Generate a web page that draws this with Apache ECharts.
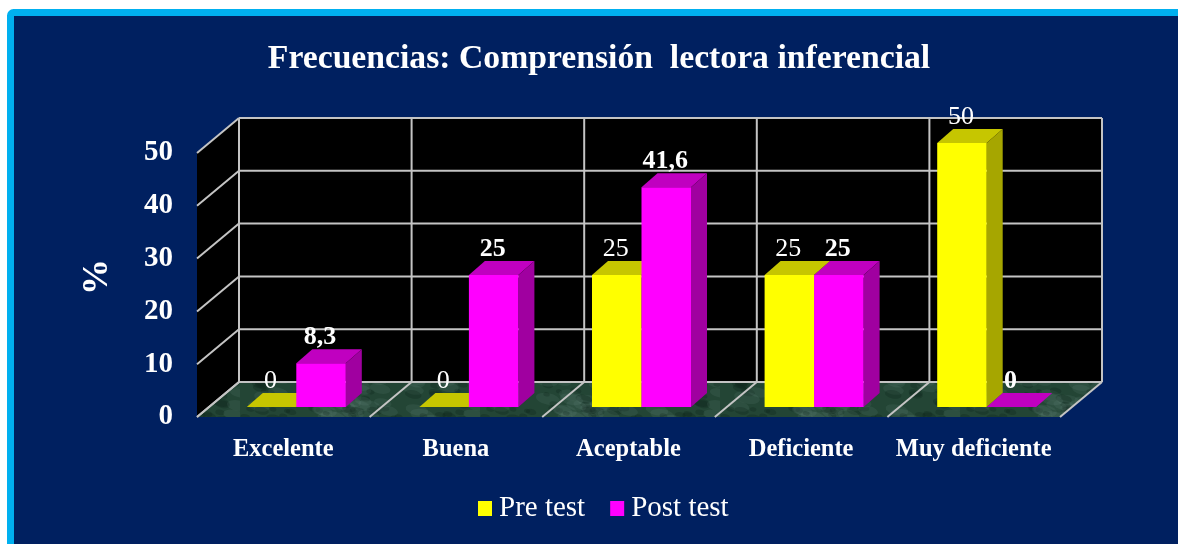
<!DOCTYPE html>
<html>
<head>
<meta charset="utf-8">
<style>html,body{margin:0;padding:0;background:#fff}#c{width:1178px;height:544px}</style>
<script src="https://cdn.jsdelivr.net/npm/echarts@6/dist/echarts.min.js"></script>
</head>
<body>
<div id="c"></div>
<script>
var categories = ['Excelente', 'Buena', 'Aceptable', 'Deficiente', 'Muy deficiente'];
var preTest = [0, 0, 25, 25, 50];
var postTest = [8.3, 25, 41.6, 25, 0];
var valueTicks = [0, 10, 20, 30, 40, 50];

var WALL = {dx: 42, dy: -35};       // depth of the chart box
var BAR = {dx: 16, dy: -14, width: 49.5, floorDx: 13, floorDy: -10}; // depth of a bar, and where it stands
var serif = '"Liberation Serif", "Times New Roman", serif';

// marble texture for the floor
function marble() {
  var cv = document.createElement('canvas');
  cv.width = 240; cv.height = 120;
  var g = cv.getContext('2d');
  g.fillStyle = '#234535';
  g.fillRect(0, 0, 240, 120);
  for (var i = 0; i < 300; i++) {
    var x = (Math.sin(i * 12.9898) * 43758.5453 % 1 + 1) % 1 * 240;
    var y = (Math.sin(i * 78.233) * 12543.173 % 1 + 1) % 1 * 120;
    var t = (Math.sin(i * 37.719) * 9631.77 % 1 + 1) % 1;
    g.fillStyle = t > 0.55 ? 'rgba(125,160,145,0.12)' : 'rgba(8,30,20,0.24)';
    g.beginPath();
    g.ellipse(x, y, 3 + t * 10, 2 + t * 4, 0.2, 0, Math.PI * 2);
    g.fill();
  }
  return cv;
}
var marbleTex = marble();

function poly(points, fill) {
  return {type: 'polygon', shape: {points: points}, style: {fill: fill, stroke: null}};
}
function line(a, b) {
  return {type: 'line', shape: {x1: a[0], y1: a[1], x2: b[0], y2: b[1]},
    style: {stroke: '#C4C4C4', lineWidth: 2, fill: null}};
}

function renderBackdrop(params, api) {
  var band = api.size([1, 0])[0];
  var y0 = api.coord([0, valueTicks[0]])[1];
  var yTop = api.coord([0, valueTicks[valueTicks.length - 1]])[1];
  var xL = api.coord([0, 0])[0] - band / 2;
  var xR = xL + band * categories.length;
  var d = WALL;
  var c = [];
  c.push(poly([[xL + d.dx, yTop + d.dy], [xR + d.dx, yTop + d.dy], [xR + d.dx, y0 + d.dy], [xL + d.dx, y0 + d.dy]], '#000'));
  c.push(poly([[xL, yTop], [xL + d.dx, yTop + d.dy], [xL + d.dx, y0 + d.dy], [xL, y0]], '#000'));
  c.push(poly([[xL, y0], [xL + d.dx, y0 + d.dy], [xR + d.dx, y0 + d.dy], [xR, y0]], {image: marbleTex, repeat: 'repeat'}));
  valueTicks.forEach(function (v) {
    var y = api.coord([0, v])[1];
    c.push(line([xL, y], [xL + d.dx, y + d.dy]));
    c.push(line([xL + d.dx, y + d.dy], [xR + d.dx, y + d.dy]));
  });
  for (var i = 0; i <= categories.length; i++) {
    var x = xL + band * i;
    c.push(line([x + d.dx, yTop + d.dy], [x + d.dx, y0 + d.dy]));
    c.push(line([x, y0], [x + d.dx, y0 + d.dy]));
  }
  return {type: 'group', children: c};
}

function barRenderer(side, colors, bold) {
  return function (params, api) {
    var idx = api.value(0), val = api.value(1);
    var base = api.coord([idx, 0]), top = api.coord([idx, val]);
    var cx = base[0] + BAR.floorDx;
    var x0 = side < 0 ? cx - BAR.width : cx;
    var x1 = x0 + BAR.width;
    var yB = base[1] + BAR.floorDy;
    var yT = top[1] + BAR.floorDy;
    var c = [];
    var dx = BAR.dx, dy = BAR.dy;
    c.push(poly([[x0, yT], [x0 + dx, yT + dy], [x1 + dx, yT + dy], [x1, yT]], colors.top));
    if (val > 0) {
      c.push(poly([[x1, yB], [x1 + dx, yB + dy], [x1 + dx, yT + dy], [x1, yT]], colors.side));
      c.push(poly([[x0, yB], [x1, yB], [x1, yT], [x0, yT]], colors.front));
    }
    c.push({type: 'text', style: {
      text: String(val).replace('.', ','),
      x: (x0 + x1) / 2 - 1, y: yT + dy - 12,
      fill: '#fff', align: 'center', verticalAlign: 'middle',
      font: (bold ? 'bold ' : '') + '26px ' + serif
    }});
    return {type: 'group', children: c};
  };
}

var chart = echarts.init(document.getElementById('c'), null, {renderer: 'canvas', width: 1178, height: 544});
chart.setOption({
  animation: false,
  backgroundColor: '#fff',
  graphic: [{
    type: 'rect', z: 0, silent: true,
    shape: {x: 10.5, y: 12.5, width: 1200, height: 560, r: 3},
    style: {fill: '#002060', stroke: '#00B0F0', lineWidth: 7}
  }],
  title: {
    text: 'Frecuencias: Comprensión  lectora inferencial',
    left: 594, top: 37, textAlign: 'center',
    textStyle: {color: '#fff', fontFamily: serif, fontWeight: 'bold', fontSize: 33.7}
  },
  legend: {
    data: ['Pre test', 'Post test'],
    left: 473, top: 489, icon: 'rect', itemWidth: 14, itemHeight: 15, itemGap: 25,
    textStyle: {color: '#fff', fontFamily: serif, fontSize: 29, padding: [0, 0, 0, 2]}
  },
  grid: {left: 197, right: 118, top: 153, bottom: 127},
  xAxis: {
    type: 'category', data: categories,
    axisLine: {show: false}, axisTick: {show: false}, splitLine: {show: false},
    axisLabel: {color: '#fff', fontFamily: serif, fontWeight: 'bold', fontSize: 24.5, margin: 20, interval: 0}
  },
  yAxis: {
    type: 'value', min: 0, max: 50, interval: 10,
    name: '%', nameLocation: 'middle', nameRotate: 90, nameGap: 81,
    nameTextStyle: {color: '#fff', fontFamily: serif, fontWeight: 'bold', fontSize: 36, padding: [0, 0, 0, 16]},
    axisLine: {show: false}, axisTick: {show: false}, splitLine: {show: false},
    axisLabel: {color: '#fff', fontFamily: serif, fontWeight: 'bold', fontSize: 29, margin: 24}
  },
  series: [
    {name: 'backdrop', type: 'custom', z: 1, silent: true, renderItem: renderBackdrop,
     data: [[0, 0]], encode: {x: 0, y: 1}},
    {name: 'Pre test', type: 'custom', z: 3, silent: true, itemStyle: {color: '#FFFF00'},
     renderItem: barRenderer(-1, {front: '#FFFF00', top: '#C6C600', side: '#A6A600'}, false),
     data: preTest.map(function (v, i) { return [i, v]; }), encode: {x: 0, y: 1}},
    {name: 'Post test', type: 'custom', z: 4, silent: true, itemStyle: {color: '#FF00FF'},
     renderItem: barRenderer(1, {front: '#FF00FF', top: '#C000C0', side: '#A000A0'}, true),
     data: postTest.map(function (v, i) { return [i, v]; }), encode: {x: 0, y: 1}}
  ]
});
</script>
</body>
</html>
